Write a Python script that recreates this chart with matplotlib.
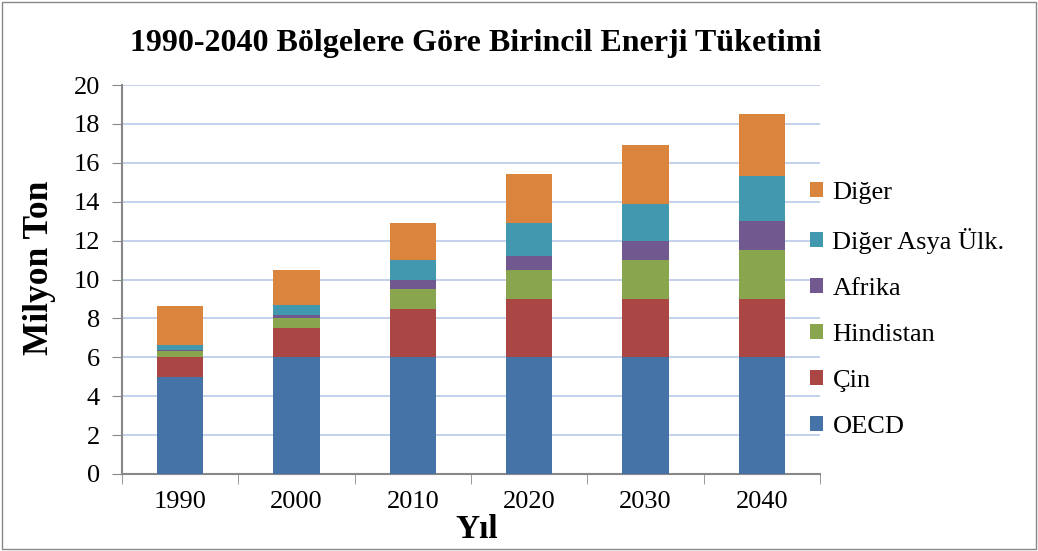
import matplotlib.pyplot as plt
import numpy as np

# yıllar ve bölgeler (milyon ton)
years = ['1990', '2000', '2010', '2020', '2030', '2040']
oecd = [5.0, 6.0, 6.0, 6.0, 6.0, 6.0]
cin = [1.0, 1.5, 2.5, 3.0, 3.0, 3.0]
hindistan = [0.3, 0.5, 1.0, 1.5, 2.0, 2.5]
afrika = [0.1, 0.2, 0.5, 0.7, 1.0, 1.5]
diger_asya = [0.25, 0.5, 1.0, 1.7, 1.9, 2.3]
diger = [2.0, 1.8, 1.9, 2.5, 3.0, 3.2]

series = [('OECD', oecd, '#4572A7'),
          ('Çin', cin, '#AA4643'),
          ('Hindistan', hindistan, '#89A54E'),
          ('Afrika', afrika, '#71588F'),
          ('Diğer Asya Ülk.', diger_asya, '#4198AF'),
          ('Diğer', diger, '#DB843D')]

serif = 'Liberation Serif'

fig = plt.figure(figsize=(10.38, 5.51), dpi=100)
ax = fig.add_axes([122/1038, 1-474/551, (820-122)/1038, (474-85)/551])

x = np.arange(len(years))
bottom = np.zeros(len(years))
handles = []
for name, vals, col in series:
    b = ax.bar(x, vals, 0.4, bottom=bottom, color=col, label=name, zorder=3)
    handles.append(b)
    bottom += np.array(vals)

ax.set_xlim(-0.5, 5.5)
ax.set_ylim(0, 20)
ax.set_yticks(range(0, 21, 2))
ax.yaxis.grid(True, color='#B9C9E8', linewidth=1.2, zorder=0)
ax.set_xticks(x)
ax.set_xticklabels(years)
ax.set_xticks(np.arange(-0.5, 6, 1), minor=True)
ax.tick_params(axis='x', which='major', length=0, pad=12)
ax.tick_params(axis='x', which='minor', length=7, color='#888888', direction='out')
ax.tick_params(axis='y', length=7, color='#888888', direction='out', pad=9)
for lbl in ax.get_xticklabels() + ax.get_yticklabels():
    lbl.set_fontfamily(serif)
    lbl.set_fontsize(19)
for s in ['top', 'right']:
    ax.spines[s].set_visible(False)
for s in ['left', 'bottom']:
    ax.spines[s].set_color('#888888')
    ax.spines[s].set_linewidth(1.5)

fig.text(40/1038, 1-268/551, 'Milyon Ton', fontfamily=serif, fontsize=25.5, fontweight='bold',
         rotation=90, ha='center', va='center')
fig.text(477/1038, 1-529/551, 'Yıl', fontfamily=serif, fontsize=24, fontweight='bold',
         ha='center', va='center')
fig.text(476/1038, 1-43/551, '1990-2040 Bölgelere Göre Birincil Enerji Tüketimi',
         fontfamily=serif, fontsize=23, fontweight='bold', ha='center', va='center')

leg = fig.legend(handles[::-1], [s[0] for s in series][::-1],
                 loc='upper left', bbox_to_anchor=(810/1038, 1-182/551),
                 frameon=False, prop={'family': serif, 'size': 19},
                 handlelength=0.5, handleheight=0.5, labelspacing=0.91,
                 handletextpad=0.35, borderpad=0, borderaxespad=0)

# dış çerçeve
fig.patches.append(plt.Rectangle((0.002, 0.003), 0.996, 0.994, transform=fig.transFigure,
                                 fill=False, edgecolor='#888888', linewidth=1))

fig.savefig('out.png', dpi=100)
